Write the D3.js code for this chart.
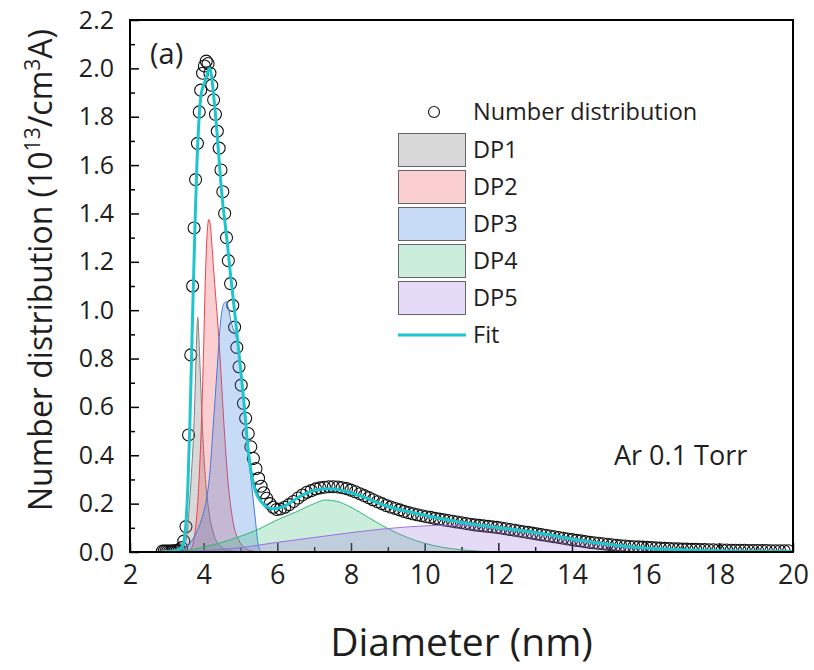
<!DOCTYPE html>
<html>
<head>
<meta charset="utf-8">
<script src="https://cdn.jsdelivr.net/npm/d3@7"></script>
<style>
  body { margin: 0; background: #fff; }
  svg { font-family: "Open Sans", "Noto Sans", sans-serif; }
</style>
</head>
<body>
<svg id="chart" width="814" height="670"></svg>
<script>
// measured number distribution (circles)
const diam = [
  2.88, 2.93, 2.98, 3.03, 3.08, 3.13, 3.18, 3.23, 3.28, 3.34,
  3.40, 3.46, 3.52, 3.59, 3.65, 3.70, 3.74, 3.78, 3.83, 3.88,
  3.92, 3.97, 4.02, 4.07, 4.12, 4.17, 4.22, 4.27, 4.32, 4.37,
  4.42, 4.47, 4.52, 4.57, 4.62, 4.67, 4.73, 4.79, 4.84, 4.90,
  4.96, 5.02, 5.08, 5.14, 5.21, 5.28, 5.35, 5.42, 5.49, 5.56,
  5.63, 5.71, 5.80, 5.89, 5.98, 6.08, 6.20, 6.32, 6.44, 6.56,
  6.68, 6.80, 6.92, 7.04, 7.16, 7.28, 7.40, 7.52, 7.64, 7.76,
  7.88, 8.00, 8.12, 8.24, 8.36, 8.48, 8.60, 8.72, 8.84, 8.96,
  9.08, 9.20, 9.32, 9.44, 9.56, 9.68, 9.80, 9.92, 10.04, 10.16,
  10.28, 10.40, 10.52, 10.64, 10.76, 10.88, 11.00, 11.12, 11.24, 11.36,
  11.48, 11.60, 11.72, 11.84, 11.96, 12.08, 12.20, 12.32, 12.44, 12.56,
  12.68, 12.80, 12.92, 13.04, 13.16, 13.28, 13.40, 13.52, 13.64, 13.76,
  13.88, 14.00, 14.12, 14.24, 14.36, 14.48, 14.60, 14.72, 14.84, 14.96,
  15.08, 15.20, 15.32, 15.44, 15.56, 15.68, 15.80, 15.92, 16.04, 16.16,
  16.28, 16.40, 16.52, 16.64, 16.76, 16.88, 17.00, 17.12, 17.24, 17.36,
  17.48, 17.60, 17.72, 17.84, 17.96, 18.08, 18.20, 18.32, 18.44, 18.56,
  18.68, 18.80, 18.92, 19.04, 19.16, 19.28, 19.40, 19.52, 19.64, 19.76,
  19.88
];
const numDist = [
  .004, .004, .004, .004, .004, .004, .005, .005, .006, .009,
  .018, .045, .105, .484, .815, 1.10, 1.34, 1.54, 1.69, 1.82,
  1.91, 1.98, 2.01, 2.03, 2.02, 1.98, 1.93, 1.87, 1.81, 1.74,
  1.67, 1.58, 1.49, 1.40, 1.30, 1.205, 1.11, 1.02, .93, .846,
  .766, .69, .615, .553, .49, .435, .387, .345, .305, .272,
  .245, .222, .20, .185, .176, .178, .185, .196, .209, .223,
  .236, .247, .254, .261, .265, .268, .270, .270, .269, .266,
  .262, .256, .249, .241, .233, .225, .216, .208, .200, .192,
  .186, .180, .174, .168, .163, .158, .154, .150, .146, .143,
  .139, .136, .133, .130, .127, .124, .121, .118, .115, .112,
  .110, .108, .106, .104, .102, .099, .096, .093, .090, .087,
  .084, .081, .078, .075, .072, .069, .066, .063, .060, .057,
  .054, .051, .048, .046, .043, .040, .038, .036, .034, .032,
  .030, .028, .026, .025, .023, .022, .021, .020, .019, .018,
  .017, .016, .015, .014, .013, .013, .012, .012, .011, .011,
  .010, .010, .009, .009, .008, .008, .008, .007, .007, .007,
  .007, .006, .006, .006, .006, .006, .005, .005, .005, .005,
  .005
];

// fitted envelope
const fitD = [
  2.90, 3.10, 3.25, 3.35, 3.42, 3.47, 3.52, 3.57, 3.62, 3.67,
  3.72, 3.77, 3.82, 3.87, 3.92, 3.97, 4.02, 4.07, 4.12, 4.17,
  4.22, 4.27, 4.32, 4.37, 4.42, 4.47, 4.52, 4.58, 4.64, 4.72,
  4.80, 4.87, 4.94, 5.01, 5.08, 5.14, 5.19, 5.25, 5.31, 5.38,
  5.45, 5.55, 5.65, 5.75, 5.89, 6.00, 6.16, 6.35, 6.53, 6.75,
  6.98, 7.20, 7.43, 7.65, 7.88, 8.10, 8.33, 8.56, 8.79, 9.01,
  9.24, 9.47, 9.69, 10.15, 10.60, 11.05, 11.50, 11.96, 12.41, 12.86,
  13.30, 13.86, 14.30, 14.76, 15.20, 15.67, 16.10, 16.57, 17.00, 17.48,
  18.00, 18.50, 19.00, 19.50, 20.00
];
const fitV = [
  .002, .003, .006, .012, .025, .05, .12, .27, .50, .80,
  1.10, 1.38, 1.62, 1.78, 1.88, 1.92, 1.94, 1.96, 1.99, 2.00,
  1.96, 1.89, 1.81, 1.72, 1.62, 1.52, 1.44, 1.36, 1.28, 1.16,
  1.05, .95, .85, .745, .64, .54, .45, .37, .31, .265,
  .235, .21, .193, .184, .179, .181, .188, .204, .222, .240,
  .254, .260, .262, .258, .250, .240, .228, .213, .199, .188,
  .178, .170, .162, .147, .133, .121, .111, .101, .093, .084,
  .073, .057, .046, .036, .028, .021, .016, .012, .009, .007,
  .005, .004, .003, .003, .002
];

// deconvolved peaks
const dp1D = [3.30, 3.45, 3.55, 3.61, 3.67, 3.73, 3.77, 3.80, 3.82, 3.84, 3.88, 3.93, 3.98, 4.05, 4.15, 4.28, 4.45, 4.70, 5.00];
const dp1V = [0, .02, .07, .19, .33, .50, .68, .84, .93, .97, .85, .65, .47, .30, .16, .07, .025, .006, 0];

const dp2D = [3.55, 3.68, 3.78, 3.85, 3.90, 3.95, 4.00, 4.05, 4.10, 4.14, 4.18, 4.22, 4.27, 4.33, 4.40, 4.47, 4.55, 4.65, 4.78, 4.95, 5.20, 5.50];
const dp2V = [0, .02, .10, .23, .38, .58, .85, 1.15, 1.33, 1.375, 1.35, 1.28, 1.17, 1.05, .91, .74, .53, .31, .14, .05, .01, 0];

const dp3D = [3.30, 3.50, 3.63, 3.80, 3.99, 4.10, 4.17, 4.24, 4.31, 4.38, 4.44, 4.50, 4.56, 4.62, 4.68, 4.75, 4.83, 4.90, 4.99, 5.08, 5.18, 5.30, 5.41, 5.47, 5.52, 5.60];
const dp3V = [.003, .015, .036, .08, .16, .24, .33, .48, .63, .79, .92, 1.0, 1.03, 1.035, 1.0, .95, .91, .877, .78, .64, .45, .28, .125, .04, .01, 0];

const dp4D = [3.30, 3.60, 4.00, 4.50, 5.00, 5.50, 6.00, 6.50, 7.00, 7.30, 7.60, 8.00, 8.50, 9.00, 9.50, 10.00, 10.50, 11.00, 11.50, 12.00];
const dp4V = [0, .008, .02, .04, .065, .095, .133, .165, .20, .215, .21, .185, .14, .097, .062, .036, .019, .009, .003, 0];

const dp5D = [3.30, 4.00, 5.00, 6.00, 7.00, 8.00, 9.00, 10.00, 10.60, 11.20, 12.00, 12.50, 13.00, 13.50, 14.00, 14.50, 15.00, 15.50, 16.00, 16.50, 17.00, 17.50, 18.00, 19.00];
const dp5V = [0, .006, .018, .04, .06, .08, .097, .108, .111, .110, .102, .094, .082, .069, .056, .045, .034, .025, .017, .011, .007, .004, .002, 0];

const xTicks = [2, 4, 6, 8, 10, 12, 14, 16, 18, 20];
const xMinor = [3, 5, 7, 9, 11, 13, 15, 17, 19];
const yTicks = [0, 0.2, 0.4, 0.6, 0.8, 1.0, 1.2, 1.4, 1.6, 1.8, 2.0, 2.2];
const yMinor = [0.1, 0.3, 0.5, 0.7, 0.9, 1.1, 1.3, 1.5, 1.7, 1.9, 2.1];

const peakNames = ["DP1", "DP2", "DP3", "DP4", "DP5"];
const peakColors = ["#7f7f7f", "#f0404a", "#3b7ddd", "#2eb872", "#9b6fe0"];
const peakOpacity = [0.3, 0.25, 0.28, 0.25, 0.25];
const fitColor = "#1cc6cc";
const textColor = "#1e1e1e";

const width = 814, height = 670;
const margin = { left: 130, top: 20, right: 21, bottom: 118 };
const innerWidth = width - margin.left - margin.right;
const innerHeight = height - margin.top - margin.bottom;

const svg = d3.select("#chart");
const g = svg.append("g")
             .attr("transform", `translate(${margin.left}, ${margin.top})`);

const xScale = d3.scaleLinear().domain([2, 20]).range([0, innerWidth]);
const yScale = d3.scaleLinear().domain([0, 2.2]).range([innerHeight, 0]);

g.append("clipPath").attr("id", "clip")
 .append("rect").attr("width", innerWidth).attr("height", innerHeight);

// ticks (inward)
const yAxis = g.append("g")
               .call(d3.axisLeft(yScale).tickValues(yTicks).tickFormat(d3.format(".1f"))
                       .tickSizeInner(-9).tickSizeOuter(0).tickPadding(16));
const yMinorAxis = g.append("g")
                    .call(d3.axisLeft(yScale).tickValues(yMinor).tickFormat("")
                            .tickSizeInner(-5).tickSizeOuter(0));
const xAxis = g.append("g")
               .attr("transform", `translate(0, ${innerHeight})`)
               .call(d3.axisBottom(xScale).tickValues(xTicks).tickFormat(d3.format("d"))
                       .tickSizeInner(-9).tickSizeOuter(0).tickPadding(13));
const xMinorAxis = g.append("g")
                    .attr("transform", `translate(0, ${innerHeight})`)
                    .call(d3.axisBottom(xScale).tickValues(xMinor).tickFormat("")
                            .tickSizeInner(-5).tickSizeOuter(0));
[yAxis, yMinorAxis, xAxis, xMinorAxis].forEach(a => {
  a.select(".domain").remove();
  a.selectAll(".tick line").attr("stroke", "#000").attr("stroke-width", 1.5);
});
yMinorAxis.selectAll("text").remove();
xMinorAxis.selectAll("text").remove();
yAxis.selectAll("text").attr("font-size", 25).attr("fill", textColor)
     .attr("font-family", "'Open Sans', sans-serif");
xAxis.selectAll("text").attr("font-size", 27).attr("fill", textColor)
     .attr("font-family", "'Open Sans', sans-serif");

const plot = g.append("g").attr("clip-path", "url(#clip)");

// circles first, peaks drawn over them
plot.selectAll("circle.pt")
    .data(diam)
    .enter()
    .append("circle")
    .attr("class", "pt")
    .attr("cx", d => xScale(d))
    .attr("cy", (d, i) => yScale(numDist[i]))
    .attr("r", 6)
    .attr("fill", "none")
    .attr("stroke", "#111")
    .attr("stroke-width", 1.1);

const peaks = [[dp1D, dp1V], [dp2D, dp2V], [dp3D, dp3V], [dp4D, dp4V], [dp5D, dp5V]];
const area = d3.area()
               .x(d => xScale(d[0]))
               .y0(yScale(0))
               .y1(d => yScale(d[1]))
               .curve(d3.curveMonotoneX);
const line = d3.line()
               .x(d => xScale(d[0]))
               .y(d => yScale(d[1]))
               .curve(d3.curveMonotoneX);

peaks.forEach(([ds, vs], i) => {
  const pts = ds.map((d, j) => [d, vs[j]]);
  plot.append("path")
      .attr("d", area(pts))
      .attr("fill", peakColors[i])
      .attr("fill-opacity", peakOpacity[i]);
  plot.append("path")
      .attr("d", line(pts))
      .attr("fill", "none")
      .attr("stroke", peakColors[i])
      .attr("stroke-width", 1);
});

plot.append("path")
    .attr("d", line(fitD.map((d, j) => [d, fitV[j]])))
    .attr("fill", "none")
    .attr("stroke", fitColor)
    .attr("stroke-width", 3);

// frame
g.append("rect")
 .attr("width", innerWidth)
 .attr("height", innerHeight)
 .attr("fill", "none")
 .attr("stroke", "#000")
 .attr("stroke-width", 2);

// legend
const leg = svg.append("g").attr("font-size", 23.5).attr("fill", textColor);
const rowY = [112, 150, 187, 224, 261, 298, 335];
leg.append("circle")
   .attr("cx", 434).attr("cy", rowY[0]).attr("r", 5.5)
   .attr("fill", "none").attr("stroke", "#111").attr("stroke-width", 1.1);
leg.append("text").attr("x", 473).attr("y", rowY[0]).attr("dy", "0.35em").text("Number distribution");
peakNames.forEach((name, i) => {
  leg.append("rect")
     .attr("x", 398.5).attr("y", rowY[i + 1] - 16.5)
     .attr("width", 67).attr("height", 33)
     .attr("fill", peakColors[i]).attr("fill-opacity", peakOpacity[i])
     .attr("stroke", "#666").attr("stroke-width", 1);
  leg.append("text").attr("x", 473).attr("y", rowY[i + 1]).attr("dy", "0.35em").text(name);
});
leg.append("line")
   .attr("x1", 398).attr("x2", 466).attr("y1", rowY[6]).attr("y2", rowY[6])
   .attr("stroke", fitColor).attr("stroke-width", 3);
leg.append("text").attr("x", 473).attr("y", rowY[6]).attr("dy", "0.35em").text("Fit");

// annotations
svg.append("text").attr("x", 150).attr("y", 64).attr("font-size", 29).attr("fill", textColor).text("(a)");
svg.append("text").attr("x", 614).attr("y", 465).attr("font-size", 27).attr("fill", textColor).text("Ar 0.1 Torr");

// axis titles
svg.append("text")
   .attr("x", margin.left + innerWidth / 2).attr("y", 656)
   .attr("text-anchor", "middle").attr("font-size", 39).attr("fill", textColor)
   .text("Diameter (nm)");

const yTitle = svg.append("text")
                  .attr("transform", `translate(52, ${margin.top + innerHeight / 2 - 16}) rotate(-90)`)
                  .attr("text-anchor", "middle").attr("font-size", 32).attr("fill", textColor);
yTitle.append("tspan").text("Number distribution (10");
yTitle.append("tspan").attr("font-size", 21).attr("dy", -12).text("13");
yTitle.append("tspan").attr("dy", 12).text("/cm");
yTitle.append("tspan").attr("font-size", 21).attr("dy", -12).text("3");
yTitle.append("tspan").attr("dy", 12).text("A)");
</script>
</body>
</html>
